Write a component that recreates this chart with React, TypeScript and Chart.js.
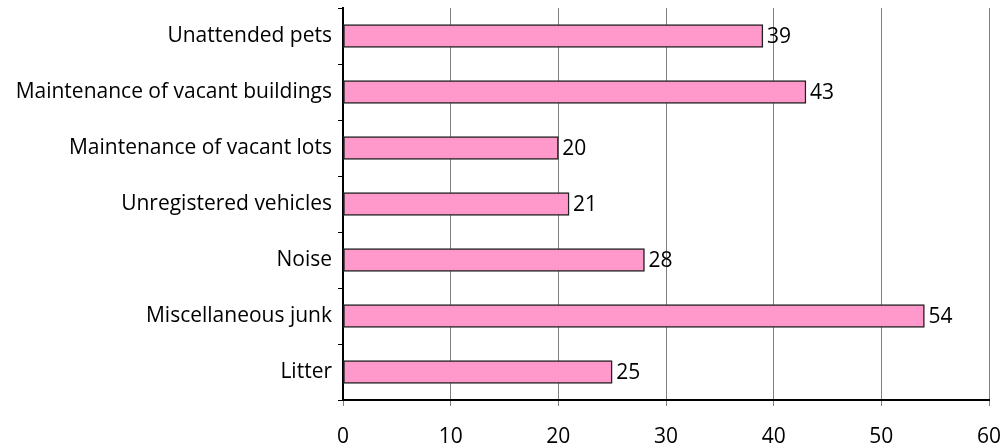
import React, { useEffect, useRef } from "react";
import { Chart, registerables } from "chart.js";

Chart.register(...registerables);

const categories = [
  "Unattended pets",
  "Maintenance of vacant buildings",
  "Maintenance of vacant lots",
  "Unregistered vehicles",
  "Noise",
  "Miscellaneous junk",
  "Litter",
];
const values = [39, 43, 20, 21, 28, 54, 25];
const xTicks = [0, 10, 20, 30, 40, 50, 60];

const FONT = "'Open Sans', 'Noto Sans', sans-serif";
const FONT_SIZE = 21;
const Y_FONT_SIZE = 21;

const valueLabels = {
  id: "valueLabels",
  afterDatasetsDraw(chart: any) {
    const ctx = chart.ctx;
    const meta = chart.getDatasetMeta(0);
    ctx.save();
    ctx.font = `${FONT_SIZE}px ${FONT}`;
    ctx.fillStyle = "#000";
    ctx.textAlign = "left";
    ctx.textBaseline = "middle";
    meta.data.forEach((bar: any, i: number) => {
      ctx.fillText(String(values[i]), bar.x + 4, bar.y + 1);
    });
    ctx.restore();
  },
};

export default function App() {
  const ref = useRef<HTMLCanvasElement | null>(null);
  useEffect(() => {
    if (!ref.current) return;
    const chart = new Chart(ref.current, {
      type: "bar",
      data: {
        labels: categories,
        datasets: [
          {
            data: values,
            backgroundColor: "#FF99CC",
            borderColor: "#222",
            borderWidth: 1.5,
            borderSkipped: false,
            barThickness: 23,
          },
        ],
      },
      options: {
        indexAxis: "y",
        animation: false,
        responsive: false,
        maintainAspectRatio: false,
        layout: { padding: { top: 8, right: 16, left: 0, bottom: 0 } },
        plugins: { legend: { display: false }, tooltip: { enabled: false } },
        scales: {
          x: {
            min: 0,
            max: 60,
            afterBuildTicks(scale: any) {
              scale.ticks = xTicks.map((v) => ({ value: v }));
            },
            afterFit(scale: any) {
              scale.height = 47;
              scale.paddingLeft = 0;
              scale.paddingRight = 0;
            },
            ticks: {
              color: "#000",
              font: { family: FONT, size: FONT_SIZE },
              padding: 18,
              maxRotation: 0,
            },
            grid: {
              color: (c: any) => (c.tick && c.tick.value === 0 ? "rgba(0,0,0,0)" : "#808080"),
              lineWidth: 1,
              drawOnChartArea: true,
              drawTicks: true,
              tickLength: 6,
              tickColor: "#808080",
            },
            border: { display: true, color: "#000", width: 2 },
          },
          y: {
            afterFit(scale: any) {
              scale.width = 343;
              scale.paddingTop = 0;
              scale.paddingBottom = 0;
            },
            ticks: {
              color: "#000",
              font: { family: FONT, size: Y_FONT_SIZE },
              padding: 6,
            },
            grid: {
              offset: true,
              drawOnChartArea: false,
              drawTicks: true,
              tickLength: 5,
              tickColor: "#000",
            },
            border: { display: true, color: "#000", width: 2 },
          },
        },
      },
      plugins: [valueLabels],
    });
    return () => chart.destroy();
  }, []);
  return (
    <div style={{ position: "absolute", left: 0, top: 0, width: 1005, height: 447 }}>
      <canvas ref={ref} width={1005} height={447} style={{ width: 1005, height: 447 }} />
    </div>
  );
}
